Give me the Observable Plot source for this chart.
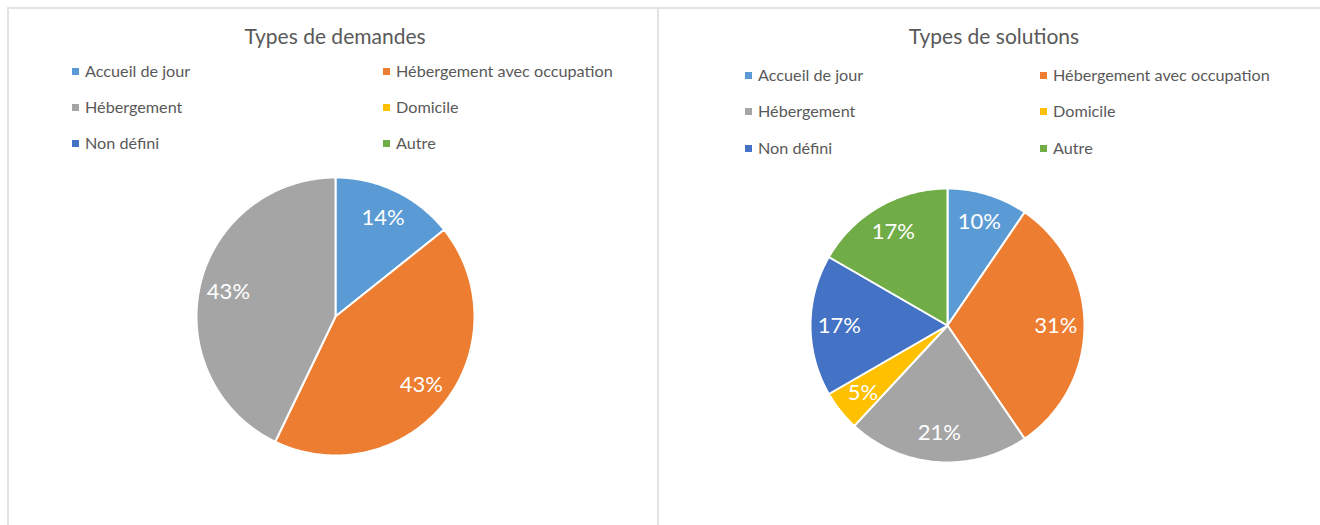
<!DOCTYPE html>
<html>
<head>
<meta charset="utf-8">
<script src="https://cdn.jsdelivr.net/npm/d3@7"></script>
<script src="https://cdn.jsdelivr.net/npm/@observablehq/plot@0.6"></script>
<style>
  html, body { margin: 0; padding: 0; background: #fff; }
  #root { position: relative; width: 1320px; height: 525px; overflow: hidden; background: #fff; font-family: Lato, "Open Sans", sans-serif; color: #595959; }
  .panel { position: absolute; box-sizing: border-box; border: 2px solid #e3e3e3; border-bottom: none; }
  .title { position: absolute; font-size: 21px; white-space: nowrap; transform: translateX(-50%); line-height: 1; }
  .leg { position: absolute; font-size: 16.2px; white-space: nowrap; line-height: 20px; display: flex; align-items: center; }
  .sw { display: inline-block; width: 7px; height: 7px; margin-right: 6px; }
  .pie { position: absolute; }
</style>
</head>
<body>
<div id="root"></div>
<script>
// ---- data ----
const categories = ["Accueil de jour", "Hébergement avec occupation", "Hébergement", "Domicile", "Non défini", "Autre"];
const colors = ["#5B9BD5", "#ED7D31", "#A5A5A5", "#FFC000", "#4472C4", "#70AD47"];
const demandesValues = [1, 3, 3, 0, 0, 0];
const solutionsValues = [4, 13, 9, 2, 7, 7];
const chartTitles = ["Types de demandes", "Types de solutions"];

// ---- layout ----
const root = document.getElementById("root");
const charts = [
  { title: chartTitles[0], values: demandesValues, panel: {left: 7, top: 7, width: 652, height: 530},
    titleX: 335, titleY: 25, legCols: [72, 383], legRows: [71, 107, 143], cx: 335, cy: 316, r: 139 },
  { title: chartTitles[1], values: solutionsValues, panel: {left: 657, top: 7, width: 700, height: 530},
    titleX: 994, titleY: 25, legCols: [745, 1040], legRows: [75, 111, 148], cx: 947, cy: 325, r: 137 }
];

function piePolygons(values) {
  const data = categories.map((c, i) => ({name: c, value: values[i]}));
  const arcs = d3.pie().value(d => d.value).sort(null).startAngle(0).endAngle(2 * Math.PI)(data);
  const total = d3.sum(values);
  const pts = [];
  const labels = [];
  for (const a of arcs) {
    if (a.value <= 0) continue;
    const name = a.data.name;
    pts.push({name, x: 0, y: 0});
    const n = Math.max(2, Math.ceil((a.endAngle - a.startAngle) / (Math.PI / 180)));
    for (let k = 0; k <= n; k++) {
      const t = a.startAngle + (a.endAngle - a.startAngle) * k / n;
      pts.push({name, x: Math.sin(t), y: Math.cos(t)});
    }
    const m = (a.startAngle + a.endAngle) / 2;
    labels.push({name, x: 0.79 * Math.sin(m), y: 0.79 * Math.cos(m), text: d3.format(".0%")(a.value / total)});
  }
  return {pts, labels};
}

for (const ch of charts) {
  const p = document.createElement("div");
  p.className = "panel";
  Object.assign(p.style, {left: ch.panel.left + "px", top: ch.panel.top + "px", width: ch.panel.width + "px", height: ch.panel.height + "px"});
  root.appendChild(p);

  const t = document.createElement("div");
  t.className = "title";
  t.textContent = ch.title;
  Object.assign(t.style, {left: ch.titleX + "px", top: ch.titleY + "px"});
  root.appendChild(t);

  categories.forEach((c, i) => {
    const col = i % 2, row = Math.floor(i / 2);
    const d = document.createElement("div");
    d.className = "leg";
    Object.assign(d.style, {left: ch.legCols[col] + "px", top: (ch.legRows[row] - 10) + "px"});
    const sw = document.createElement("span");
    sw.className = "sw";
    sw.style.background = colors[i];
    d.appendChild(sw);
    d.appendChild(document.createTextNode(c));
    root.appendChild(d);
  });

  const {pts, labels} = piePolygons(ch.values);
  const size = 2 * ch.r + 20;
  const svg = Plot.plot({
    width: size, height: size,
    margin: 10,
    x: {domain: [-1, 1], axis: null},
    y: {domain: [-1, 1], axis: null},
    color: {type: "ordinal", domain: categories, range: colors},
    style: {background: "transparent", overflow: "visible", fontFamily: "Lato, 'Open Sans', sans-serif"},
    marks: [
      Plot.line(pts, {x: "x", y: "y", z: "name", fill: "name", stroke: "white", strokeWidth: 2, strokeLinejoin: "round", curve: "linear-closed"}),
      Plot.text(labels, {x: "x", y: "y", text: "text", fill: "white", fontSize: 22})
    ]
  });
  const wrap = document.createElement("div");
  wrap.className = "pie";
  Object.assign(wrap.style, {left: (ch.cx - size / 2) + "px", top: (ch.cy - size / 2) + "px"});
  wrap.appendChild(svg);
  root.appendChild(wrap);
}
</script>
</body>
</html>
